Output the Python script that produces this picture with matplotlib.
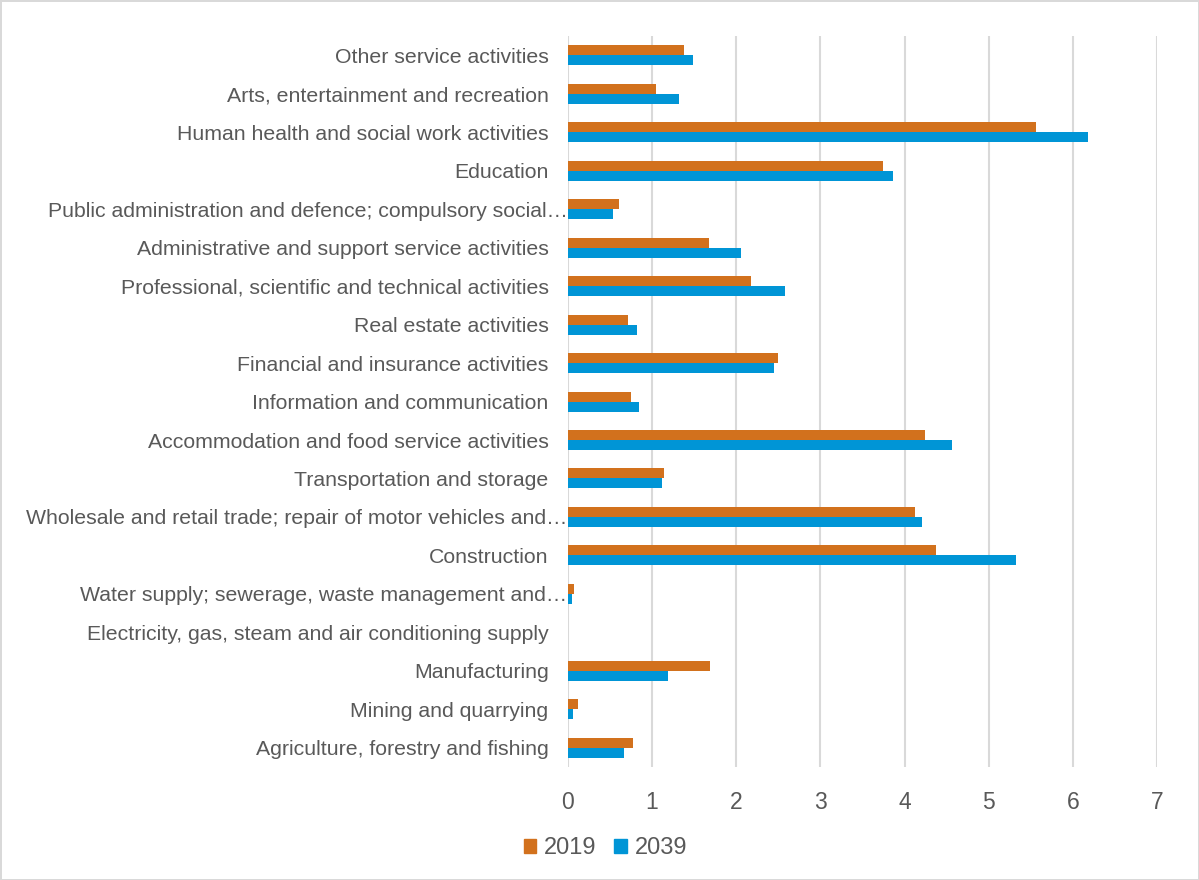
import matplotlib
matplotlib.use('Agg')
import matplotlib.pyplot as plt
import matplotlib.patches as mpatches
import matplotlib.transforms as mtransforms
import numpy as np

plt.rcParams['font.family'] = ['Liberation Sans', 'DejaVu Sans']

# sectors, bottom to top as drawn
sectors = [
    'Agriculture, forestry and fishing',
    'Mining and quarrying',
    'Manufacturing',
    'Electricity, gas, steam and air conditioning supply',
    'Water supply; sewerage, waste management and\u2026',
    'Construction',
    'Wholesale and retail trade; repair of motor vehicles and\u2026',
    'Transportation and storage',
    'Accommodation and food service activities',
    'Information and communication',
    'Financial and insurance activities',
    'Real estate activities',
    'Professional, scientific and technical activities',
    'Administrative and support service activities',
    'Public administration and defence; compulsory social\u2026',
    'Education',
    'Human health and social work activities',
    'Arts, entertainment and recreation',
    'Other service activities',
]
v2019 = [0.77, 0.12, 1.69, 0.0, 0.07, 4.37, 4.12, 1.14, 4.24, 0.75,
         2.50, 0.71, 2.17, 1.68, 0.61, 3.74, 5.56, 1.05, 1.38]
v2039 = [0.67, 0.06, 1.19, 0.0, 0.05, 5.33, 4.21, 1.12, 4.56, 0.84,
         2.45, 0.82, 2.58, 2.06, 0.53, 3.86, 6.18, 1.32, 1.49]

c2019 = '#D2711D'
c2039 = '#0095D6'
grey = '#595959'

fig = plt.figure(figsize=(11.99, 8.8), dpi=100)
fig.patch.set_edgecolor('#D9D9D9')
fig.patch.set_linewidth(2)
ax = fig.add_axes([0.4737, 0.1284, 0.4912, 0.8306])

y = np.arange(len(sectors))
h = 0.26
ax.barh(y + h / 2, v2019, height=h, color=c2019, zorder=3)
ax.barh(y - h / 2, v2039, height=h, color=c2039, zorder=3)

ax.set_xlim(0, 7)
ax.set_ylim(-0.5, len(sectors) - 0.5)
ax.set_xticks(range(8))
ax.set_yticks(y)
ax.set_yticklabels(sectors, fontsize=15.3, color=grey)
ax.tick_params(axis='x', labelsize=16.5, colors=grey, length=0, pad=17)
ax.tick_params(axis='y', length=0, pad=14)
ax.grid(axis='x', color='#D9D9D9', linewidth=1.5, zorder=0)
for s in ax.spines.values():
    s.set_visible(False)

# truncated labels run past the label column, like the Excel original
shift = mtransforms.ScaledTranslation(19 / 100, 0, fig.dpi_scale_trans)
for lab in ax.get_yticklabels():
    if lab.get_text().endswith('\u2026'):
        lab.set_transform(lab.get_transform() + shift)

handles = [mpatches.Patch(color=c2019, label='2019'),
           mpatches.Patch(color=c2039, label='2039')]
leg = fig.legend(handles=handles, loc='center', bbox_to_anchor=(0.505, 0.036),
                 ncol=2, frameon=False, fontsize=17, handlelength=0.52,
                 handleheight=0.52, handletextpad=0.35, columnspacing=0.75)
for t in leg.get_texts():
    t.set_color(grey)

fig.savefig('out.png', dpi=100, edgecolor=fig.get_edgecolor())
